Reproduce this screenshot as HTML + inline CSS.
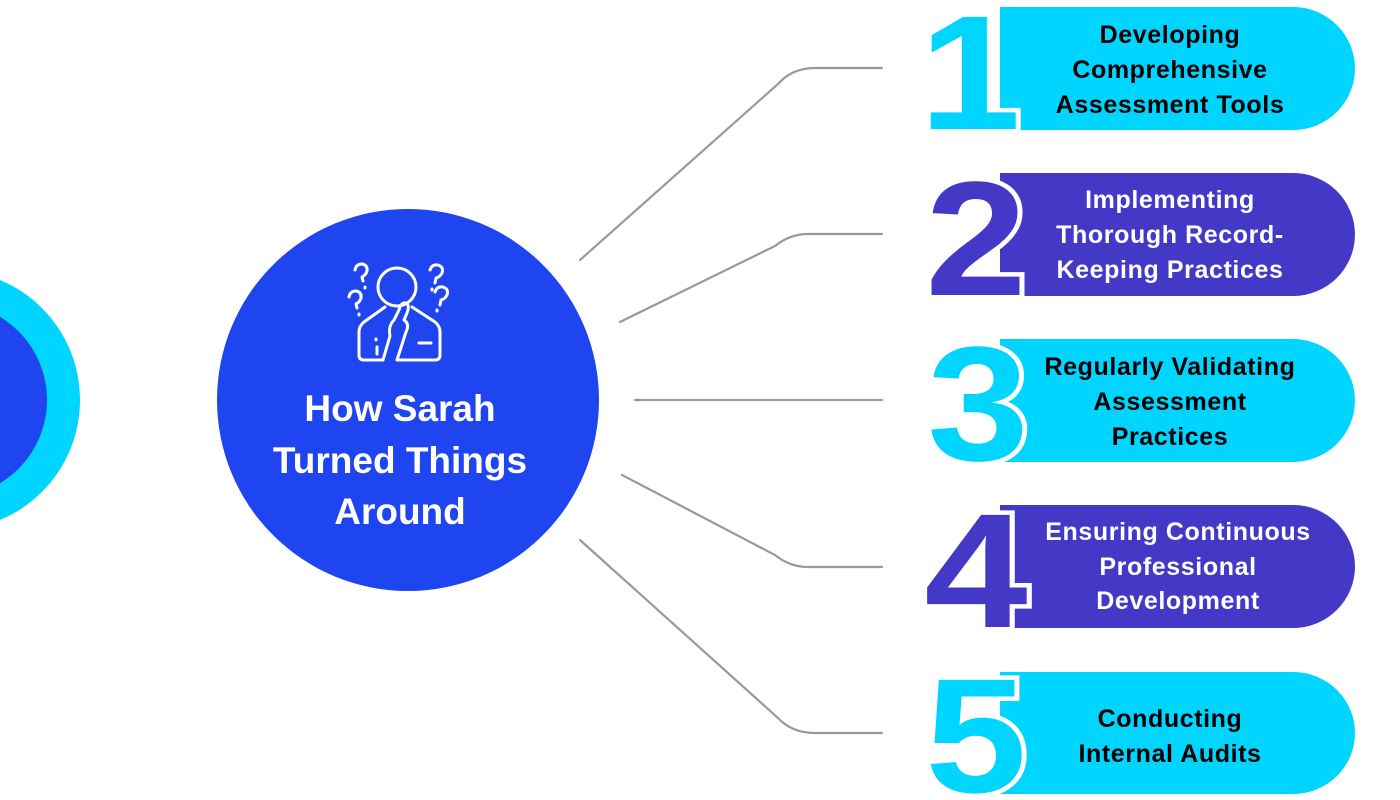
<!DOCTYPE html>
<html><head><meta charset="utf-8"><style>
html,body{margin:0;padding:0;background:#fff;width:1400px;height:800px;overflow:hidden}
svg{display:block}
.pt{font-family:"Liberation Sans",Arial,sans-serif;font-weight:bold;font-size:25px;letter-spacing:0.6px;text-anchor:middle}
.mt{font-family:"Liberation Sans",Arial,sans-serif;font-weight:bold;font-size:37px;fill:#fff;text-anchor:middle}
.num{font-family:"Liberation Sans",Arial,sans-serif;font-weight:bold;font-size:163px;text-anchor:middle;stroke:#fff;stroke-width:9;paint-order:stroke;stroke-linejoin:miter}
</style></head><body>
<svg width="1400" height="800" viewBox="0 0 1400 800" xmlns="http://www.w3.org/2000/svg">
<!-- left partial circle -->
<circle cx="-50" cy="400" r="130" fill="#00d5ff"/>
<circle cx="-50" cy="400" r="97" fill="#1f45ef"/>

<!-- connectors -->
<g fill="none" stroke="#999" stroke-width="2.2" stroke-linecap="round">
<path d="M580,260 L778,84 Q792,68 815,68 L882,68"/>
<path d="M620,322 L775,246 Q790,234 808,234 L882,234"/>
<path d="M635,400 L882,400"/>
<path d="M622,475 L775,555 Q790,567 808,567 L882,567"/>
<path d="M580,540 L778,718 Q792,733 815,733 L882,733"/>
</g>

<!-- main circle -->
<circle cx="408" cy="400" r="191" fill="#1f45f0"/>

<!-- icon -->
<g fill="none" stroke="#fff" stroke-width="3" stroke-linecap="round" stroke-linejoin="round">
<circle cx="397" cy="287" r="19"/>
<path d="M385,307 L364,322 Q359,326 359,332 L359,355 Q359,360 364,360 L383,360"/>
<path d="M412,307 L435,322 Q440,326 440,332 L440,355 Q440,360 435,360 L397,360"/>
<path d="M383,360 L390,336 Q388,326 394,320 L399,310 Q401,302 406,303 Q410,305 407,313 L404,320 Q410,324 406,332 L397,360"/>
<path d="M419,343 L431,343"/>
<path d="M377,347 L377,354"/>
<path d="M376,339 L376,340"/>
<path d="M355,270 Q356,264 362,264 Q368,265 367,271 Q366,275 362,277 L363,281"/>
<path d="M365,287 L365,288"/>
<path d="M349,297 Q350,291 356,291 Q362,292 361,298 Q360,302 356,304 L357,308"/>
<path d="M359,314 L359,315"/>
<path d="M430,270 Q432,264 438,265 Q444,267 442,273 Q440,277 436,278 L435,283"/>
<path d="M432,289 L432,290"/>
<path d="M435,292 Q437,286 443,287 Q449,289 447,295 Q445,299 441,300 L440,305"/>
<path d="M437,310 L437,311"/>
</g>

<!-- main text -->
<text class="mt" x="400" y="421">How Sarah</text>
<text class="mt" x="400" y="473">Turned Things</text>
<text class="mt" x="400" y="524">Around</text>

<!-- pills -->
<path d="M1000,7 L1293,7 A62,61.5 0 0 1 1293,130 L1000,130 Z" fill="#00d5ff"/>
<path d="M1000,173 L1293,173 A62,61.5 0 0 1 1293,296 L1000,296 Z" fill="#4339c6"/>
<path d="M1000,339 L1293,339 A62,61.5 0 0 1 1293,462 L1000,462 Z" fill="#00d5ff"/>
<path d="M1000,505 L1293,505 A62,61.5 0 0 1 1293,628 L1000,628 Z" fill="#4339c6"/>
<path d="M1000,672 L1293,672 A62,61 0 0 1 1293,794 L1000,794 Z" fill="#00d5ff"/>

<!-- numbers -->
<text class="num" transform="translate(970,129) scale(1.12,1)" fill="#00d5ff">1</text>
<text class="num" transform="translate(976,295) scale(1.12,1)" fill="#4339c6">2</text>
<text class="num" transform="translate(978,460) scale(1.12,1)" fill="#00d5ff">3</text>
<text class="num" transform="translate(976,627) scale(1.14,1)" fill="#4339c6">4</text>
<text class="num" transform="translate(976,792) scale(1.12,1)" fill="#00d5ff">5</text>

<!-- pill texts -->
<text class="pt" x="1170" y="43" fill="#000">Developing</text>
<text class="pt" x="1170" y="78" fill="#000">Comprehensive</text>
<text class="pt" x="1170" y="113" fill="#000">Assessment Tools</text>
<text class="pt" x="1170" y="208" fill="#fff">Implementing</text>
<text class="pt" x="1170" y="243" fill="#fff">Thorough Record-</text>
<text class="pt" x="1170" y="278" fill="#fff">Keeping Practices</text>
<text class="pt" x="1170" y="375" fill="#000">Regularly Validating</text>
<text class="pt" x="1170" y="410" fill="#000">Assessment</text>
<text class="pt" x="1170" y="445" fill="#000">Practices</text>
<text class="pt" x="1178" y="540" fill="#fff">Ensuring Continuous</text>
<text class="pt" x="1178" y="575" fill="#fff">Professional</text>
<text class="pt" x="1178" y="609" fill="#fff">Development</text>
<text class="pt" x="1170" y="727" fill="#000">Conducting</text>
<text class="pt" x="1170" y="762" fill="#000">Internal Audits</text>
</svg>
</body></html>
